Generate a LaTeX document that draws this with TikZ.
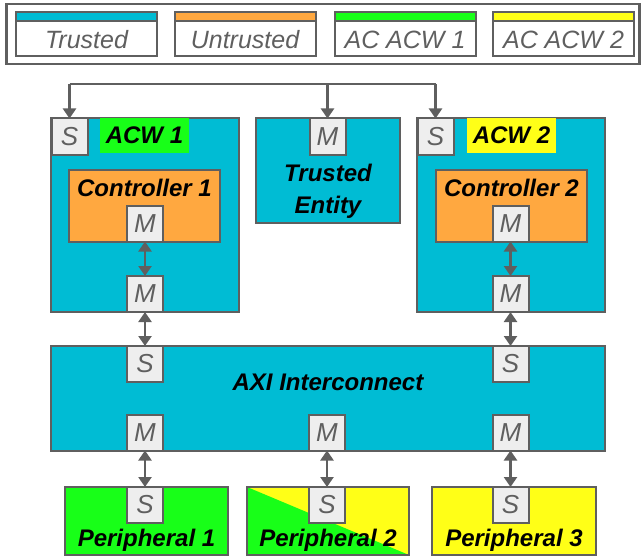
\documentclass[tikz,border=0pt]{standalone}
\usepackage{fontspec}
\setmainfont{Liberation Sans}
\usetikzlibrary{arrows.meta}
\definecolor{cyanA}{RGB}{0,188,212}
\definecolor{orangeA}{RGB}{255,168,64}
\definecolor{greenA}{RGB}{24,255,24}
\definecolor{yellowA}{RGB}{255,255,23}
\definecolor{bord}{RGB}{95,95,95}
\definecolor{portfill}{RGB}{238,238,238}
\definecolor{porttext}{RGB}{95,95,95}
\begin{document}
\begin{tikzpicture}[x=1pt,y=-1pt,
  box/.style={draw=bord, line width=2pt, inner sep=0pt, outer sep=0pt},
  port/.style={box, fill=portfill, minimum width=36pt, minimum height=36pt,
    font=\fontsize{26}{26}\selectfont\itshape, text=porttext},
  btext/.style={font=\fontsize{24}{32}\selectfont\bfseries\itshape, text=black, inner sep=0pt, align=center},
  legtext/.style={font=\fontsize{25}{25}\selectfont\itshape, text=porttext, inner sep=0pt},
  legitem/.style={box, fill=white, minimum width=141pt, minimum height=44pt,
    path picture={\fill[#1] (path picture bounding box.north west) rectangle ([yshift=-9pt]path picture bounding box.north east);
    \draw[bord, line width=1.6pt] ([yshift=-9pt]path picture bounding box.north west) -- ([yshift=-9pt]path picture bounding box.north east);}},
  dbl/.style={{Triangle[width=13pt,length=10pt]}-{Triangle[width=13pt,length=10pt]}, draw=bord, line width=2.4pt},
  sgl/.style={-{Triangle[width=13pt,length=10pt]}, draw=bord, line width=2.4pt}]
\useasboundingbox (0,0) rectangle (642,559);

% legend
\node[box, line width=2.6pt, minimum width=633pt, minimum height=60pt] (legend) at (323,34) {};
\node[legitem=cyanA] (lg1) at (86.5,34) {};
\node[legitem=orangeA] (lg2) at (245,34) {};
\node[legitem=greenA] (lg3) at (405,34) {};
\node[legitem=yellowA] (lg4) at (563.5,34) {};
\node[legtext] (lt1) at (86.5,40) {Trusted};
\node[legtext] (lt2) at (245,40) {Untrusted};
\node[legtext] (lt3) at (405,40) {AC ACW 1};
\node[legtext] (lt4) at (563.5,40) {AC ACW 2};

% ACW 1
\node[box, fill=cyanA, minimum width=188pt, minimum height=194pt] (acw1) at (145,215) {};
\node[port] (acw1s) at (69.5,136.5) {S};
\node[btext, fill=greenA, minimum width=89pt, minimum height=35pt] (acw1lab) at (144.5,135.5) {ACW 1};
\node[box, fill=orangeA, minimum width=151pt, minimum height=72pt] (ctrl1) at (144.5,206) {};
\node[btext] (ctrl1t) at (144.5,188) {Controller 1};
\node[port] (c1m) at (145,223.5) {M};
\node[port] (acw1m) at (145,294) {M};

% Trusted entity
\node[box, fill=cyanA, minimum width=144pt, minimum height=105pt] (te) at (328,170.5) {};
\node[port] (tem) at (327.5,136.5) {M};
\node[btext] (tet) at (328,191) {Trusted\\Entity};

% ACW 2
\node[box, fill=cyanA, minimum width=188pt, minimum height=194pt] (acw2) at (511,215) {};
\node[port] (acw2s) at (435.5,136.5) {S};
\node[btext, fill=yellowA, minimum width=89pt, minimum height=35pt] (acw2lab) at (511.5,135.5) {ACW 2};
\node[box, fill=orangeA, minimum width=151pt, minimum height=72pt] (ctrl2) at (511.5,206) {};
\node[btext] (ctrl2t) at (511.5,188) {Controller 2};
\node[port] (c2m) at (510.5,223.5) {M};
\node[port] (acw2m) at (510.5,294) {M};

% top bus
\coordinate (jl) at (acw1s.north |- 0,84);
\coordinate (jr) at (acw2s.north |- 0,84);
\draw[draw=bord, line width=2.4pt] (jl) -- (jr);
\draw[sgl] (jl) -- (acw1s.north);
\draw[sgl] (tem.north |- jl) -- (tem.north);
\draw[sgl] (jr) -- (acw2s.north);

% AXI
\node[box, fill=cyanA, minimum width=554pt, minimum height=105pt] (axi) at (328,398.5) {};
\node[btext] (axit) at (328,382) {AXI Interconnect};
\node[port] (axs1) at (145,364) {S};
\node[port] (axs2) at (510.5,364) {S};
\node[port] (axm1) at (145,432.5) {M};
\node[port] (axm2) at (327,432.5) {M};
\node[port] (axm3) at (510.5,432.5) {M};

% peripherals
\node[box, fill=greenA, minimum width=163pt, minimum height=68pt] (p1) at (146.5,521) {};
\node[box, minimum width=162pt, minimum height=68pt,
  path picture={\fill[yellowA] (path picture bounding box.north west) rectangle (path picture bounding box.south east);
  \fill[greenA] (path picture bounding box.north west) -- (path picture bounding box.south east) -- (path picture bounding box.south west) -- cycle;}] (p2) at (328,521) {};
\node[box, fill=yellowA, minimum width=164pt, minimum height=68pt] (p3) at (514,521) {};
\node[port] (p1s) at (145,505) {S};
\node[port] (p2s) at (327,505) {S};
\node[port] (p3s) at (510.5,505) {S};
\node[btext] (p1t) at (146.5,540) {Peripheral 1};
\node[btext] (p2t) at (328,540) {Peripheral 2};
\node[btext] (p3t) at (514,540) {Peripheral 3};

% arrows
\draw[dbl] (c1m.south) -- (acw1m.north);
\draw[dbl] (c2m.south) -- (acw2m.north);
\draw[dbl] (acw1m.south) -- (axs1.north);
\draw[dbl] (acw2m.south) -- (axs2.north);
\draw[dbl] (axm1.south) -- (p1s.north);
\draw[dbl] (axm2.south) -- (p2s.north);
\draw[dbl] (axm3.south) -- (p3s.north);
\end{tikzpicture}
\end{document}
